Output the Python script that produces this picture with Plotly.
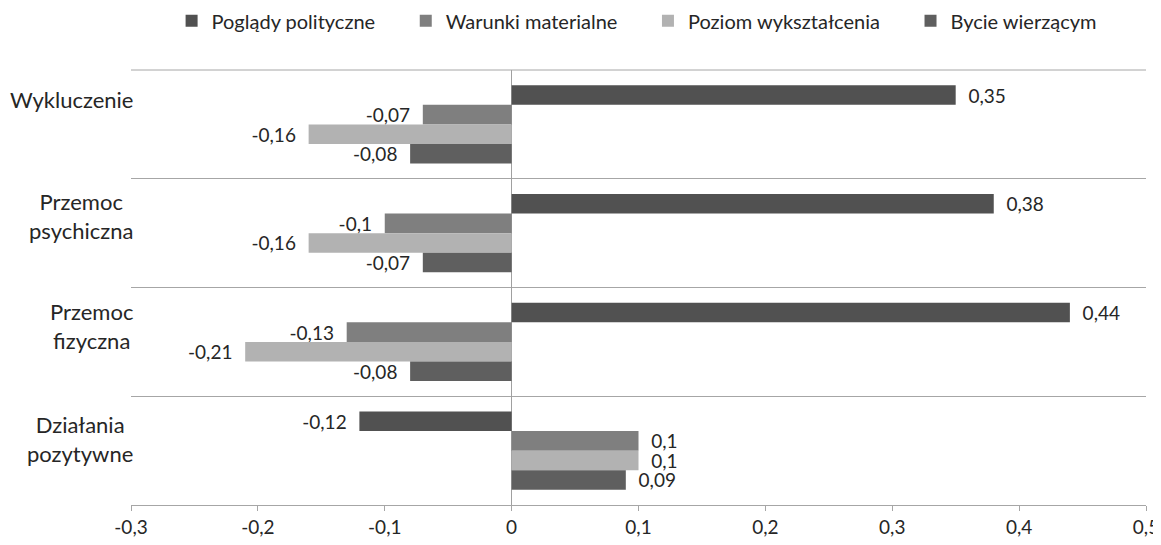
import plotly.graph_objects as go

categories = ["Wykluczenie", "Przemoc psychiczna", "Przemoc fizyczna", "Działania pozytywne"]
category_labels = ["Wykluczenie", "Przemoc<br>psychiczna", "Przemoc<br>fizyczna", "Działania<br>pozytywne"]
series_names = ["Poglądy polityczne", "Warunki materialne", "Poziom wykształcenia", "Bycie wierzącym"]
poglady = [0.35, 0.38, 0.44, -0.12]
warunki = [-0.07, -0.10, -0.13, 0.10]
poziom = [-0.16, -0.16, -0.21, 0.10]
bycie = [-0.08, -0.07, -0.08, 0.09]
colors = ["#515151", "#7f7f7f", "#b2b2b2", "#5f5f5f"]
x_ticks = [-0.3, -0.2, -0.1, 0, 0.1, 0.2, 0.3, 0.4, 0.5]

FONT = "Lato"
TXT = "#262626"
NB = "\u00a0"
label_shift = [25, 17, 16, 12]  # upward offset of category labels (style)


def fmt(v):
    return ("%g" % v).replace(".", ",")


def lab(v):
    return (NB * 2 + fmt(v)) if v >= 0 else (fmt(v) + NB * 2)


fig = go.Figure()
for i, (name, vals, col) in enumerate(zip(series_names, [poglady, warunki, poziom, bycie], colors)):
    shown = name + (NB * 5 if i < len(series_names) - 1 else "")
    fig.add_trace(go.Bar(
        y=categories, x=vals, name=shown, orientation="h",
        marker=dict(color=col, line=dict(width=0)),
        text=[lab(v) for v in vals], textposition="outside",
        textfont=dict(family=FONT, size=19, color=TXT),
        cliponaxis=False, constraintext="none",
    ))

for cat, text, sh in zip(categories, category_labels, label_shift):
    fig.add_annotation(x=0.004, xref="paper", y=cat, yref="y", text=text,
                       showarrow=False, xanchor="right", yanchor="middle", yshift=sh,
                       align="center", font=dict(family=FONT, size=22, color=TXT))

fig.add_shape(type="line", xref="paper", yref="paper", x0=0, x1=1, y0=1, y1=1,
              line=dict(color="#a6a6a6", width=1))

# page has an 8px body margin, so the figure is sized to fit the window
fig.update_layout(
    width=1153, height=529,
    margin=dict(l=123, r=15, t=62, b=32, autoexpand=False),
    plot_bgcolor="white", paper_bgcolor="white",
    barmode="group", bargap=0.28, bargroupgap=0,
    font=dict(family=FONT, size=20, color=TXT),
    legend=dict(orientation="h", x=0.04, xanchor="left", y=1.113, yanchor="middle",
                font=dict(family=FONT, size=20, color=TXT),
                traceorder="normal", itemwidth=30),
    showlegend=True,
)
fig.update_xaxes(range=[-0.3, 0.5], tickvals=x_ticks,
                 ticktext=[fmt(v) for v in x_ticks],
                 showgrid=False, zeroline=True, zerolinecolor="#a0a0a0", zerolinewidth=1,
                 showline=True, linecolor="#a6a6a6", linewidth=1,
                 ticks="outside", ticklen=5, tickcolor="#a6a6a6",
                 ticklabeloverflow="allow",
                 tickfont=dict(family=FONT, size=19, color=TXT))
fig.update_yaxes(range=[3.5, -0.5], type="category", showticklabels=False,
                 tickson="boundaries", showgrid=True, gridcolor="#a6a6a6", gridwidth=1,
                 ticks="", zeroline=False)

fig.write_html("out.html")
